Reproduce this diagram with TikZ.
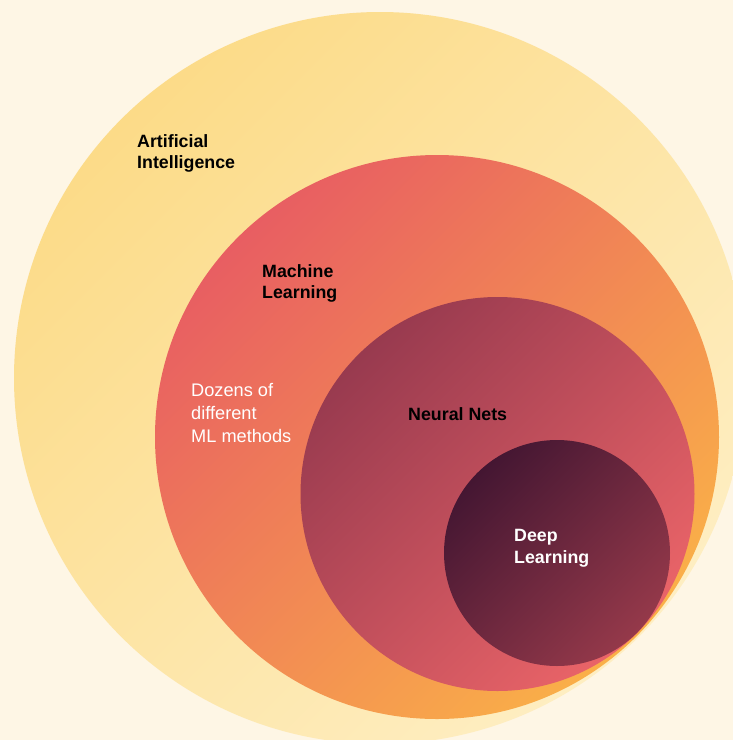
\documentclass[tikz,border=0pt]{standalone}
\usepackage{fontspec}
\setmainfont{Liberation Sans}
\usepackage{xcolor}
\definecolor{cream}{HTML}{FEF6E5}
\definecolor{aiTop}{HTML}{FCDB88}
\definecolor{aiBot}{HTML}{FEEEC2}
\definecolor{mlTop}{HTML}{E85E62}
\definecolor{mlBot}{HTML}{FAB048}
\definecolor{nnTop}{HTML}{983A4F}
\definecolor{nnBot}{HTML}{EA6468}
\definecolor{dlTop}{HTML}{441632}
\definecolor{dlBot}{HTML}{95394A}
\newcommand{\LblFont}{\fontsize{17.8}{21.8}\selectfont\bfseries}
\newcommand{\NoteFont}{\fontsize{18.2}{23}\selectfont}

\begin{document}
\begin{tikzpicture}[x=1pt,y=-1pt,
  ring/.style={circle, inner sep=0pt},
  tag/.style={anchor=north west, inner sep=0pt, align=left, font=\LblFont},
  note/.style={anchor=north west, inner sep=0pt, align=left, font=\NoteFont, white}]
  \useasboundingbox (0,0) rectangle (733,740);
  \fill[cream] (0,0) rectangle (733,740);
  \clip (0,0) rectangle (733,740);
  \node[ring, minimum size=732pt, top color=aiTop, bottom color=aiBot, shading angle=45] (AI) at (380,378)   {};
  \node[ring, minimum size=564pt, top color=mlTop, bottom color=mlBot, shading angle=45] (ML) at (437,437)   {};
  \node[ring, minimum size=394pt, top color=nnTop, bottom color=nnBot, shading angle=45] (NN) at (497.5,494) {};
  \node[ring, minimum size=226pt, top color=dlTop, bottom color=dlBot, shading angle=45] (DL) at (557,553)   {};
  \node[tag]          (AIlbl) at (137,134) {Artificial\\Intelligence};
  \node[tag]          (MLlbl) at (262,264) {Machine\\Learning};
  \node[note]         (MLnote) at (191,383) {Dozens of\\different\\ML methods};
  \node[tag]          (NNlbl) at (408,407) {Neural Nets};
  \node[tag, white]   (DLlbl) at (514,529) {Deep\\Learning};
\end{tikzpicture}
\end{document}
